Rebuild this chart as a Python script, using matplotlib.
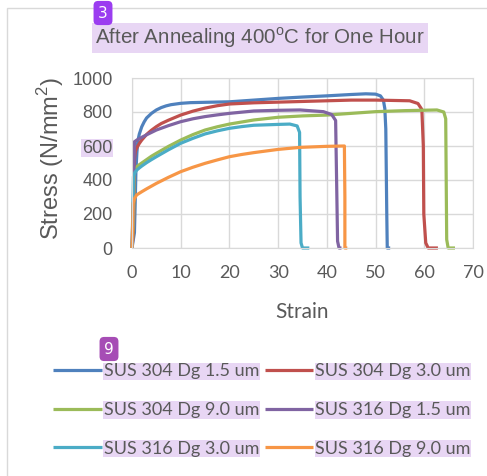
import matplotlib
matplotlib.use('Agg')
import matplotlib.pyplot as plt
from matplotlib.patches import Rectangle

# strain (%) / stress (N/mm2) curves
s304_15_strain = [0, 0.5, 0.7, 0.8, 1.0, 1.2, 1.5, 2, 2.5, 3, 4, 5, 6, 7, 8, 10, 12, 15, 20, 25, 30, 35, 40,
                  45, 48, 50, 51, 51.6, 51.9, 52.1, 52.3, 52.4, 53.0]
s304_15_stress = [0, 90, 320, 450, 560, 630, 670, 713, 742, 765, 792, 812, 826, 836, 843, 851, 855, 857, 860,
                  870, 880, 888, 895, 903, 907, 905, 895, 870, 820, 700, 200, 0, 0]

s304_30_strain = [0, 0.3, 0.5, 0.7, 1, 1.5, 2, 3, 4, 5, 6, 7.5, 10, 12.5, 15, 17.5, 20, 25, 30, 40, 45, 50,
                  57, 58.7, 59.5, 59.8, 59.9, 60.3, 60.8, 62.8]
s304_30_stress = [0, 100, 520, 570, 590, 615, 635, 668, 693, 714, 732, 752, 782, 805, 823, 837, 847, 854, 858,
                  866, 870, 870, 866, 850, 815, 600, 200, 30, 0, 0]

s304_90_strain = [0, 0.3, 0.5, 1, 1.5, 2, 3, 4, 5, 7.5, 10, 12.5, 15, 17.5, 20, 25, 30, 35, 40, 45, 50, 56,
                  62.6, 64.0, 64.4, 64.5, 64.6, 64.9, 66.3]
s304_90_stress = [0, 150, 440, 478, 490, 500, 520, 540, 557, 598, 635, 667, 694, 713, 729, 753, 769, 777, 782,
                  792, 802, 808, 812, 800, 760, 400, 50, 0, 0]

s316_15_strain = [0, 0.3, 0.5, 1, 2, 3, 4, 5, 7.5, 10, 12.5, 15, 17.5, 20, 25, 30, 34.5, 39.3, 41.0, 41.8,
                  42.0, 42.2, 42.5, 43.0]
s316_15_stress = [0, 280, 625, 635, 651, 666, 680, 694, 720, 743, 760, 773, 783, 792, 806, 810, 812, 802, 785,
                  750, 400, 40, 0, 0]

s316_30_strain = [0, 0.2, 0.3, 0.6, 1, 1.5, 2, 3, 4, 5, 7.5, 10, 12.5, 15, 17.5, 20, 22.5, 25, 30, 32.4, 33.9,
                  34.4, 34.5, 34.7, 35.0, 36.4]
s316_30_stress = [0, 265, 420, 445, 459, 471, 482, 502, 520, 537, 578, 616, 645, 671, 689, 704, 714, 722, 727,
                  729, 718, 680, 300, 30, 0, 0]

s316_90_strain = [0, 0.25, 0.5, 0.95, 1.5, 2, 3, 4, 5, 7.5, 10, 12.5, 15, 17.5, 20, 22.5, 25, 30, 34.5, 40,
                  43.6, 43.7, 43.7, 44.2]
s316_90_stress = [0, 263, 290, 312, 322, 331, 348, 364, 380, 416, 449, 475, 498, 518, 537, 550, 561, 580, 592,
                  598, 600, 300, 0, 0]

labels = ['SUS 304 Dg 1.5 um', 'SUS 304 Dg 3.0 um', 'SUS 304 Dg 9.0 um',
          'SUS 316 Dg 1.5 um', 'SUS 316 Dg 3.0 um', 'SUS 316 Dg 9.0 um']
colors = ['#4F81BD', '#C0504D', '#9BBB59', '#8064A2', '#4BACC6', '#F79646']
curves = [(s304_15_strain, s304_15_stress), (s304_30_strain, s304_30_stress),
          (s304_90_strain, s304_90_stress), (s316_15_strain, s316_15_stress),
          (s316_30_strain, s316_30_stress), (s316_90_strain, s316_90_stress)]

x_ticks = [0, 10, 20, 30, 40, 50, 60, 70]
y_ticks = [0, 200, 400, 600, 800, 1000]

txt = '#595959'
grid = '#D9D9D9'
hl = '#E8D6F4'

fig = plt.figure(figsize=(4.87, 4.76), dpi=100)
fig.patches.append(Rectangle((7 / 487, -0.1), 1.2, 1 - 8 / 476 + 0.1, transform=fig.transFigure,
                             fill=False, edgecolor=grid, linewidth=1))

ax = fig.add_axes([132 / 487, 1 - 248 / 476, 341 / 487, 170 / 476])
handles = []
for (xs, ys), c, lab in zip(curves, colors, labels):
    h, = ax.plot(xs, ys, color=c, linewidth=2.3, label=lab, clip_on=False,
                 solid_joinstyle='round', solid_capstyle='butt')
    handles.append(h)

ax.set_xlim(0, 70)
ax.set_ylim(0, 1000)
ax.set_xticks(x_ticks)
ax.set_yticks(y_ticks)
ax.grid(True, color=grid, linewidth=1)
ax.set_axisbelow(True)
for sp in ax.spines.values():
    sp.set_color(grid)
ax.tick_params(length=0, colors=txt)
ax.tick_params(axis='x', pad=12, labelsize=13)
ax.tick_params(axis='y', pad=14, labelsize=13)
for t in ax.get_xticklabels():
    t.set_family('Lato')
for t in ax.get_yticklabels():
    t.set_family('Liberation Sans')
    if t.get_text() == '600':
        t.set_bbox(dict(facecolor=hl, edgecolor='none', pad=0.5))

fig.text(260 / 487, 1 - 38 / 476, 'After Annealing 400$^{\\mathregular{o}}$C for One Hour',
         ha='center', va='center', fontsize=14.8, color=txt, family='Liberation Sans',
         bbox=dict(facecolor=hl, edgecolor='none', pad=2))
fig.text(103 / 487, 1 - 13 / 476, '3', ha='center', va='center', fontsize=11, color='white',
         bbox=dict(boxstyle='round,pad=0.3', facecolor='#9B3DF0', edgecolor='none'))

fig.text(51 / 487, 1 - 158 / 476, 'Stress (N/mm$^{\\mathregular{2}}$)', rotation=90,
         ha='center', va='center', fontsize=17, color=txt, family='Liberation Sans')
fig.text(302 / 487, 1 - 312 / 476, 'Strain', ha='center', va='center',
         fontsize=15, color=txt, family='Lato')

order = [0, 2, 4, 1, 3, 5]
leg = fig.legend([handles[i] for i in order], [labels[i] for i in order],
                 loc='center', bbox_to_anchor=(262 / 487, 1 - 410 / 476), ncol=2,
                 frameon=False, handlelength=2.7, handletextpad=0.1,
                 columnspacing=0.3, labelspacing=1.25, prop={'family': 'Lato', 'size': 13})
for t in leg.get_texts():
    t.set_color(txt)
    t.set_bbox(dict(facecolor=hl, edgecolor='none', pad=0.5))
fig.text(109 / 487, 1 - 349 / 476, '9', ha='center', va='center', fontsize=11, color='white',
         bbox=dict(boxstyle='round,pad=0.3', facecolor='#A64DB5', edgecolor='none'))

fig.savefig('out.png', dpi=100, facecolor='white')
